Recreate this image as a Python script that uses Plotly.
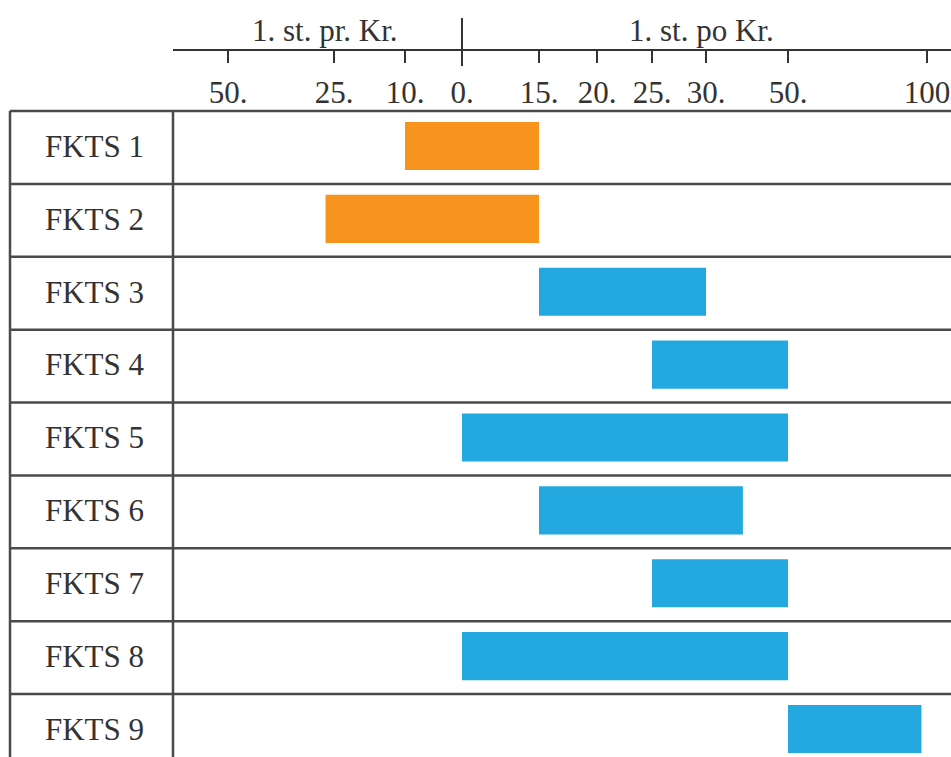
import numpy as np
import plotly.graph_objects as go

# time axis is not linear: ticks sit at fixed positions along the axis
TICK_YEARS = [-50, -25, -10, 0, 15, 20, 25, 30, 50, 100]
TICK_TEXT = ['50.', '25.', '10.', '0.', '15.', '20.', '25.', '30.', '50.', '100']
AXIS_POS = [228, 334, 405, 462, 539, 597, 652, 706, 788, 927]

ROWS = ['FKTS 1', 'FKTS 2', 'FKTS 3', 'FKTS 4', 'FKTS 5', 'FKTS 6', 'FKTS 7', 'FKTS 8', 'FKTS 9']
START = [-10, -27, 15, 25, 0, 15, 25, 0, 50]
END = [15, 15, 30, 50, 50, 39, 50, 50, 98]
PERIOD = ['pr', 'pr', 'po', 'po', 'po', 'po', 'po', 'po', 'po']

COLORS = {'pr': '#F7941E', 'po': '#23A8DF'}
FONT = 'Liberation Serif'
TXT = '#333333'
LINE = '#4a4a4a'
W, H = 951, 757


def to_axis(years):
    return np.interp(years, TICK_YEARS, AXIS_POS)


x0 = to_axis(START)
x1 = to_axis(END)
idx = list(range(len(ROWS)))

fig = go.Figure()
fig.add_trace(go.Bar(
    y=idx, x=x1 - x0, base=x0, orientation='h', width=0.66,
    marker=dict(color=[COLORS[p] for p in PERIOD], line=dict(width=0)),
    hoverinfo='skip',
))

# row height ~72.9px, first row centred at ~146px
row_h = 72.875
top = -146.0 / row_h
bottom = (H - 146.0) / row_h
left_col = 173

fig.update_layout(
    width=W, height=H,
    margin=dict(l=0, r=0, t=0, b=0),
    paper_bgcolor='white', plot_bgcolor='white',
    showlegend=False,
    font=dict(family=FONT, size=31, color=TXT),
    xaxis=dict(
        domain=[left_col / W, 1], range=[left_col, W],
        anchor='free', position=1 - 50 / H, side='bottom',
        showline=True, linecolor=TXT, linewidth=2,
        ticks='outside', ticklen=12, tickwidth=2, tickcolor=TXT,
        tickvals=AXIS_POS, ticktext=TICK_TEXT, ticklabelstandoff=3,
        showgrid=False, zeroline=False, automargin=False, fixedrange=True,
    ),
    yaxis=dict(
        domain=[0, 1], range=[bottom, top],
        tickvals=idx, ticktext=ROWS, ticks='', ticklabelstandoff=28,
        showgrid=False, zeroline=False, showline=False, automargin=False,
        fixedrange=True,
    ),
)

# table grid
for i in range(len(ROWS) + 1):
    fig.add_shape(type='line', xref='paper', yref='paper',
                  x0=10 / W, x1=1, y0=1 - (111 + i * row_h) / H, y1=1 - (111 + i * row_h) / H,
                  line=dict(color=LINE, width=2.5))
for xv in (10, left_col):
    fig.add_shape(type='line', xref='paper', yref='paper',
                  x0=xv / W, x1=xv / W, y0=1 - 111 / H, y1=0,
                  line=dict(color=LINE, width=2.5))

# divider at year 0 in the header
fig.add_shape(type='line', xref='x', yref='paper',
              x0=to_axis(0), x1=to_axis(0), y0=1 - 18 / H, y1=1 - 66 / H,
              line=dict(color=TXT, width=2))

for label, xc in (('1. st. pr. Kr.', 325), ('1. st. po Kr.', 701)):
    fig.add_annotation(x=xc, y=1 - 30 / H, xref='x', yref='paper', text=label,
                       xanchor='center', yanchor='middle', showarrow=False,
                       font=dict(family=FONT, size=31, color=TXT))

fig.write_html('out.html', config={'displayModeBar': False},
               post_script="document.body.style.margin='0px';")
